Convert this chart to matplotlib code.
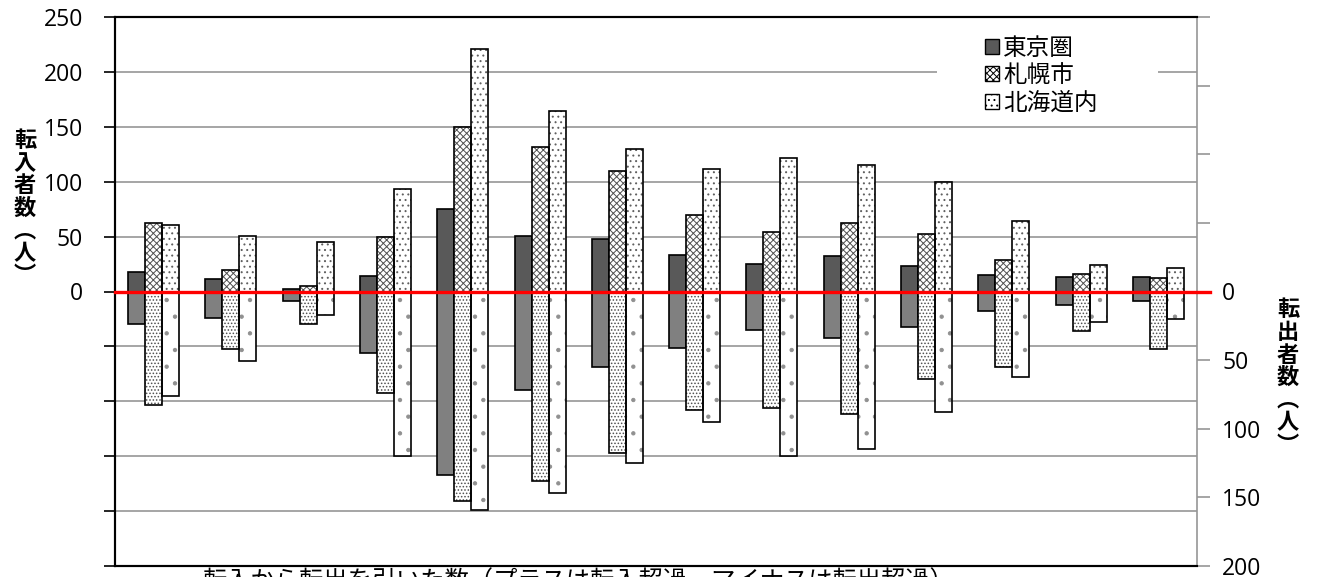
import numpy as np
import matplotlib
matplotlib.use("Agg")
import matplotlib.pyplot as plt
from matplotlib.patches import Patch, Rectangle

plt.rcParams['font.family'] = ['Noto Sans CJK JP', 'DejaVu Sans']
plt.rcParams['hatch.linewidth'] = 0.7

# 転入者数（上側, 左軸）
in_tokyo = [18, 11, 2, 14, 75, 51, 48, 33, 25, 32, 23, 15, 13, 13]
in_sapporo = [62, 20, 5, 50, 150, 132, 110, 70, 54, 62, 52, 29, 16, 12]
in_hokkaido = [61, 51, 45, 93, 221, 164, 130, 112, 122, 115, 100, 64, 24, 21]
# 転出者数（下側, 右軸）
out_tokyo = [24, 19, 7, 45, 134, 72, 55, 41, 28, 34, 26, 14, 10, 7]
out_sapporo = [83, 42, 24, 74, 153, 138, 118, 86, 85, 89, 64, 55, 29, 42]
out_hokkaido = [76, 51, 17, 120, 159, 147, 125, 95, 120, 115, 88, 62, 22, 20]

series_names = ['東京圏', '札幌市', '北海道内']
left_ticks = [0, 50, 100, 150, 200, 250]
right_ticks = [0, 50, 100, 150, 200]

x = np.arange(len(in_tokyo))
w = 0.22
W, H = 1317, 577


def hatched_bar(a, pos, vals, hatch, hcolor):
    # 模様だけ灰色で描き、枠は黒で上から重ねる
    a.bar(pos, vals, w, color='white', edgecolor=hcolor, hatch=hatch, linewidth=0, zorder=3)
    a.bar(pos, vals, w, fill=False, edgecolor='black', linewidth=1.2, zorder=4)


def vertical_label(xc, ytop, text, step=22.5):
    # 縦書き: 一文字ずつ縦に並べる
    for i, ch in enumerate(text):
        fig.text(xc / W, 1 - (ytop + i * step) / H, ch, ha='center', va='center',
                 fontsize=16, fontweight='bold')


fig = plt.figure(figsize=(W / 100, H / 100), dpi=100)
ax = fig.add_axes([115 / W, 1 - 566 / H, (1197 - 115) / W, (566 - 17) / H])
ax2 = ax.twinx()

# 上向きの棒（転入）
ax.bar(x - w, in_tokyo, w, color='#595959', edgecolor='black', linewidth=1.2, zorder=3)
hatched_bar(ax, x, in_sapporo, 'xxxxx', '#505050')
hatched_bar(ax, x + w, in_hokkaido, '...', '#606060')

# 下向きの棒（転出）: 右軸は反転
ax2.bar(x - w, out_tokyo, w, color='#808080', edgecolor='black', linewidth=1.2, zorder=3)
hatched_bar(ax2, x, out_sapporo, '.....', '#505050')
hatched_bar(ax2, x + w, out_hokkaido, '.', '#909090')

ax.set_xlim(-0.5, len(x) - 0.5)
ax.set_ylim(-250, 250)
ax2.set_ylim(200, -200)
ax.set_xticks([])

ax.set_yticks(np.arange(-250, 251, 50))
ax.set_yticklabels([str(v) if v in left_ticks else '' for v in range(-250, 251, 50)],
                   fontsize=16.5, family='Open Sans')
ax.tick_params(axis='y', length=8, width=1.2, color='black', pad=15)
for v in range(-200, 201, 50):
    ax.axhline(v, color='#969696', linewidth=1.2, zorder=1)

ax2.set_yticks(np.arange(-200, 201, 50))
ax2.set_yticklabels([str(v) if v in right_ticks else '' for v in range(-200, 201, 50)],
                    fontsize=16.5, family='Open Sans')
ax2.tick_params(axis='y', length=9, width=1.2, color='#969696', pad=9)

for s in ['left', 'top', 'bottom']:
    ax.spines[s].set_linewidth(1.5)
    ax2.spines[s].set_linewidth(1.5)
ax2.spines['right'].set_color('#969696')
ax2.spines['right'].set_linewidth(1.2)
ax.spines['right'].set_visible(False)

# ゼロの基準線
ax2.plot([-0.5, len(x) - 0.5 + 0.17], [0, 0], color='red', linewidth=2.4, zorder=5, clip_on=False)

vertical_label(25, 141, '転入者数︵人︶')
vertical_label(1288, 310, '転出者数︵人︶')
fig.text(578 / W, 1 - 568 / H, '転入から転出を引いた数（プラスは転入超過、マイナスは転出超過）',
         ha='center', va='top', fontsize=17.5)

# 凡例の背景（目盛線を隠す）
ax2.add_patch(Rectangle((937 / W, 1 - 118 / H), (1158 - 937) / W, (118 - 25) / H,
                        transform=fig.transFigure, facecolor='white', edgecolor='none', zorder=2))

handles = [Patch(facecolor='#595959', edgecolor='black'),
           Patch(facecolor='white', edgecolor='black', hatch='xxxxx'),
           Patch(facecolor='white', edgecolor='black', hatch='...')]
leg = ax2.legend(handles, series_names, loc='upper left', bbox_to_anchor=(968 / W, 1 - 20 / H),
                 bbox_transform=fig.transFigure, fontsize=17, handlelength=0.6, handleheight=0.6,
                 handletextpad=0.2, labelspacing=0.2, borderpad=0.2, frameon=False)
leg.set_zorder(6)

fig.savefig('out.png', dpi=100)
